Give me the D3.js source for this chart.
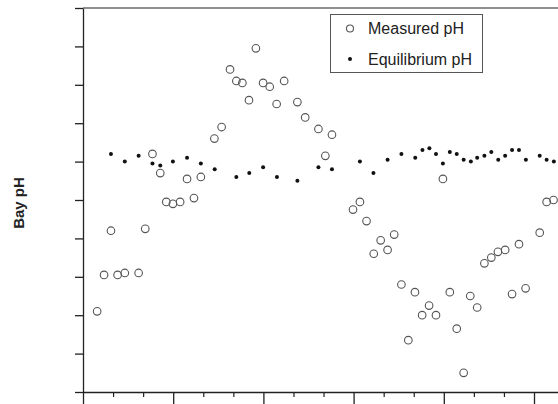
<!DOCTYPE html>
<html lang="en">
    <head>
        <meta charset="utf-8">
        <title>Bay pH</title>
        <script src="https://d3js.org/d3.v7.min.js"></script>
        <style>
            body {
                margin: 0;
                background-color: white;
                font-family: 'Liberation Sans', Arial, sans-serif;
            }
        </style>
    </head>
    <body>
        <div class="chart"></div>

        <script>
            // sample day and pH values
            const measuredDay = [4.7, 7.0, 9.3, 11.5, 13.9, 18.5, 20.7, 23.1, 25.7, 27.7, 29.9, 32.3, 34.6, 36.9, 39.2,
                43.7, 46.1, 48.9, 51.0, 53.0, 55.2, 57.5, 59.9, 62.1, 64.4, 66.9, 71.3, 73.9, 78.3, 80.6, 82.8,
                89.8, 92.1, 94.3, 96.7, 99.0, 101.3, 103.5, 105.9, 108.2, 110.4, 112.8, 115.1, 117.4, 119.7,
                122.0, 124.3, 126.6, 128.8, 131.1, 133.5, 135.8, 138.0, 140.4, 142.7, 145.0, 147.2, 151.9, 154.2, 156.5];
            const measuredPH = [7.42, 7.61, 7.84, 7.61, 7.62, 7.62, 7.85, 8.24, 8.14, 7.99, 7.98, 7.99, 8.11, 8.01, 8.12,
                8.32, 8.38, 8.68, 8.62, 8.61, 8.52, 8.79, 8.61, 8.59, 8.50, 8.62, 8.51, 8.43, 8.37, 8.23, 8.34,
                7.95, 7.99, 7.89, 7.72, 7.79, 7.74, 7.82, 7.56, 7.27, 7.52, 7.40, 7.45, 7.40, 8.11,
                7.52, 7.33, 7.10, 7.50, 7.44, 7.67, 7.70, 7.73, 7.74, 7.51, 7.77, 7.54, 7.83, 7.99, 8.00];

            const equilibriumDay = [9.3, 13.9, 18.5, 23.1, 25.7, 29.9, 34.6, 39.2, 43.8, 51.0, 55.3, 59.9, 64.5, 71.3,
                78.3, 82.8, 92.1, 96.6, 101.3, 105.9, 110.5, 112.9, 115.2, 117.4, 119.7, 122.0, 124.3, 126.6,
                129.0, 131.1, 133.5, 135.8, 138.1, 140.4, 142.7, 145.0, 147.3, 151.9, 154.2, 156.6];
            const equilibriumPH = [8.24, 8.20, 8.23, 8.19, 8.18, 8.20, 8.22, 8.19, 8.16, 8.12, 8.14, 8.17, 8.12, 8.10,
                8.17, 8.16, 8.20, 8.14, 8.21, 8.24, 8.22, 8.26, 8.27, 8.24, 8.19, 8.25, 8.24, 8.21,
                8.20, 8.22, 8.23, 8.25, 8.21, 8.23, 8.26, 8.26, 8.21, 8.23, 8.21, 8.20];

            const seriesNames = ["Measured pH", "Equilibrium pH"];
            const yTicks = d3.range(7.0, 9.01, 0.2);
            const xMajorTicks = d3.range(0, 181, 30);
            const xMinorTicks = d3.range(0, 181, 10).filter(d => d % 30 !== 0);

            const width = 558;
            const height = 404;
            const padLeft = 83, padTop = 8, axisY = 392;

            const xScale = d3.scaleLinear()
                .domain([0, 180])
                .range([padLeft, padLeft + 180 * 3.0067]);
            const yScale = d3.scaleLinear()
                .domain([7.0, 9.0])
                .range([axisY, padTop]);

            const svg = d3.select(".chart")
                .append("svg")
                .attr("width", width)
                .attr("height", height)
                .style("display", "block");

            // top frame line
            svg.append("line")
                .attr("x1", padLeft).attr("x2", xScale(180))
                .attr("y1", padTop).attr("y2", padTop)
                .style("stroke", "#222")
                .style("stroke-width", 1.2);

            // y axis, ticks only
            const yAxis = d3.axisLeft(yScale)
                .tickValues(yTicks)
                .tickSize(8)
                .tickSizeOuter(0)
                .tickFormat("");
            const gy = svg.append("g")
                .attr("transform", "translate(" + padLeft + ",0)")
                .call(yAxis);
            gy.selectAll("path, line").style("stroke", "#222").style("stroke-width", 1.3);

            // x axis: major and minor ticks
            const gxMinor = svg.append("g")
                .attr("transform", "translate(0," + axisY + ")")
                .call(d3.axisBottom(xScale).tickValues(xMinorTicks).tickSize(5).tickSizeOuter(0).tickFormat(""));
            gxMinor.select(".domain").remove();
            gxMinor.selectAll("line").style("stroke", "#222").style("stroke-width", 1.2);

            const gx = svg.append("g")
                .attr("transform", "translate(0," + axisY + ")")
                .call(d3.axisBottom(xScale).tickValues(xMajorTicks).tickSize(12).tickSizeOuter(0).tickFormat(""));
            gx.selectAll("path, line").style("stroke", "#222").style("stroke-width", 1.3);

            // measured pH: open circles
            svg.append("g")
                .selectAll("circle")
                .data(measuredDay)
                .join("circle")
                .attr("cx", d => xScale(d))
                .attr("cy", (d, i) => yScale(measuredPH[i]))
                .attr("r", 3.8)
                .style("fill", "none")
                .style("stroke", "#555")
                .style("stroke-width", 1.1);

            // equilibrium pH: small dots
            svg.append("g")
                .selectAll("circle")
                .data(equilibriumDay)
                .join("circle")
                .attr("cx", d => xScale(d))
                .attr("cy", (d, i) => yScale(equilibriumPH[i]))
                .attr("r", 2)
                .style("fill", "#111");

            // y label
            svg.append("text")
                .attr("transform", "translate(24,203) rotate(-90)")
                .attr("text-anchor", "middle")
                .style("font-size", "15px")
                .style("font-weight", "bold")
                .style("fill", "#222")
                .text("Bay pH");

            // legend
            const legend = svg.append("g");
            legend.append("rect")
                .attr("x", 330.5).attr("y", 14.5)
                .attr("width", 152).attr("height", 58)
                .style("fill", "white")
                .style("stroke", "#555")
                .style("stroke-width", 1);
            legend.append("circle")
                .attr("cx", 350).attr("cy", 28.5).attr("r", 3.5)
                .style("fill", "none").style("stroke", "#555").style("stroke-width", 1.1);
            legend.append("circle")
                .attr("cx", 350).attr("cy", 59).attr("r", 2)
                .style("fill", "#111");
            legend.selectAll("text")
                .data(seriesNames)
                .join("text")
                .attr("x", 368)
                .attr("y", (d, i) => 34 + i * 30.5)
                .style("font-size", "16px")
                .style("fill", "#222")
                .text(d => d);
        </script>
    </body>
</html>
